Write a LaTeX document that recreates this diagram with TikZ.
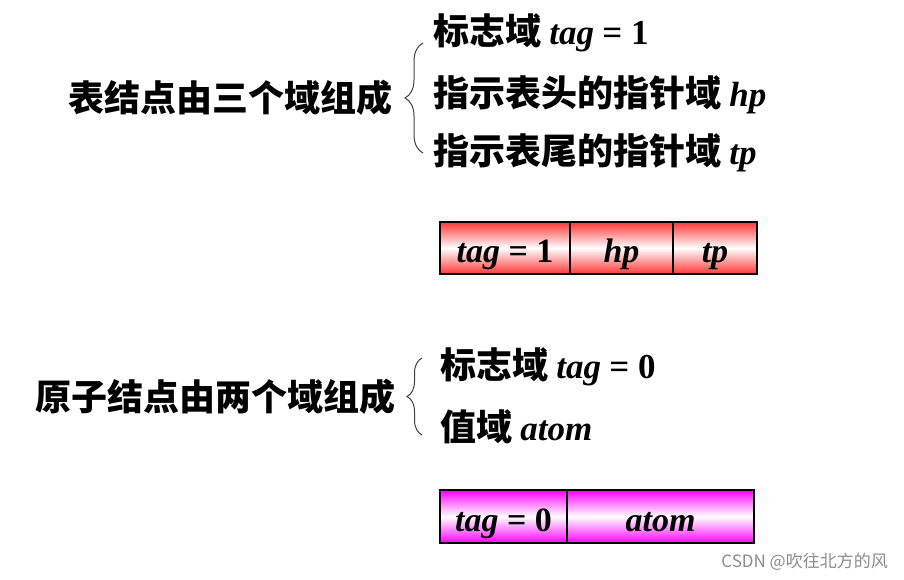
\documentclass[tikz,border=0pt]{standalone}
\usepackage{fontspec}
\setmainfont{Liberation Serif}
\newfontfamily\cjk{Noto Sans CJK SC}[BoldFont={Noto Sans CJK SC Black}]
\usepackage{xcolor}
\usetikzlibrary{positioning,decorations.pathreplacing}

\definecolor{listred}{RGB}{255,55,55}
\definecolor{atompink}{RGB}{255,0,255}
\newcommand\lat{\rmfamily\fontsize{35}{38}\selectfont}

\begin{document}
\begin{tikzpicture}[
  x=1pt, y=-1pt,
  title/.style={anchor=base west, inner sep=0pt, font=\cjk\bfseries\fontsize{36}{40}\selectfont},
  item/.style={anchor=base west, inner sep=0pt, font=\cjk\bfseries\fontsize{36}{40}\selectfont},
  field/.style={draw, line width=1.2pt, outer sep=0pt, inner sep=0pt,
    minimum height=52pt, text height=28pt, text depth=0pt,
    font=\rmfamily\bfseries\itshape\fontsize{34}{38}\selectfont},
  listfield/.style={field, top color=listred, bottom color=listred, middle color=white},
  atomfield/.style={field, top color=atompink, bottom color=atompink, middle color=white},
  brc/.style={draw=black!75, line width=1pt, decorate,
    decoration={brace, amplitude=#1}}
]
\useasboundingbox (0,0) rectangle (904,580);

% list node
\node[title] (lsttitle) at (68,112) {表结点由三个域组成};
\node[item] (lsttag) at (433,45) {标志域 {\lat\itshape tag} {\lat = 1}};
\node[item] (lsthp) at (433,107) {指示表头的指针域 {\lat\itshape hp}};
\node[item] (lsttp) at (433,165) {指示表尾的指针域 {\lat\itshape tp}};
\coordinate (b1lo) at (423,153);
\coordinate (b1hi) at (423,43);
\draw[brc=18pt] (b1lo) -- (b1hi);

\node[listfield, minimum width=130pt, anchor=north west] (ftag) at (440,222) {tag {\upshape =} {\upshape 1}};
\node[listfield, minimum width=103pt, right=0pt of ftag] (fhp) {hp};
\node[listfield, minimum width=84pt, right=0pt of fhp] (ftp) {tp};

% atom node
\node[title] (atmtitle) at (35,410) {原子结点由两个域组成};
\node[item] (atmtag) at (440,378) {标志域 {\lat\bfseries\itshape tag} {\lat\bfseries = 0}};
\node[item] (atmval) at (440,440) {值域 {\lat\bfseries\itshape atom}};
\coordinate (b2lo) at (422,435);
\coordinate (b2hi) at (422,358);
\draw[brc=15pt] (b2lo) -- (b2hi);

\node[atomfield, minimum width=127pt, minimum height=53pt, text height=30pt, anchor=north west] (gtag) at (440,490) {tag {\upshape =} {\upshape 0}};
\node[atomfield, minimum width=187pt, minimum height=53pt, text height=30pt, right=0pt of gtag] (gatom) {atom};

\node[font=\cjk\fontsize{17}{20}\selectfont, text=black!45, anchor=east, inner sep=0pt] (mark) at (888,562) {CSDN @吹往北方的风};
\end{tikzpicture}
\end{document}
